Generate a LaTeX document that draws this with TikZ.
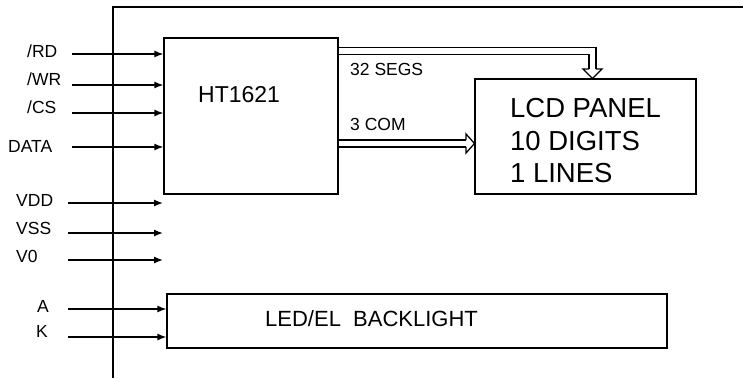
\documentclass[tikz,border=0pt]{standalone}
\usepackage{fontspec}
\setmainfont{Liberation Sans}
\usetikzlibrary{arrows.meta}
\tikzstyle{box} = [rectangle, draw=black, line width=1.3pt, inner sep=0pt]
\tikzstyle{pin} = [font=\fontsize{17.5}{21}\selectfont, inner sep=0pt, anchor=base west]
\tikzstyle{arrow} = [line width=1.3pt, -{Latex[length=9pt,width=7pt]}]
\tikzstyle{bus} = [double, double distance=5.6pt, line width=1.3pt]
\tikzstyle{head} = [line width=1.3pt]

\begin{document}
\begin{tikzpicture}[x=1pt, y=-1pt]
\useasboundingbox (0,0) rectangle (743,378);
% module outline
\draw [line width=1.3pt] (113,378) -- (113,7) -- (743,7);

% blocks
\node (ht) [box, minimum width=174pt, minimum height=156pt] at (251,116) {};
\node (htname) [pin, font=\fontsize{23}{26}\selectfont] at (198,102) {HT1621};
\node (lcd) [box, minimum width=221pt, minimum height=115pt, align=left, font=\fontsize{27.5}{32.5}\selectfont] at (585.5,136.5) {\rule{0pt}{28pt}LCD PANEL\\10 DIGITS\\1 LINES};
\node (bl) [box, minimum width=500pt, minimum height=54pt] at (417,321) {};
\node (blname) [pin, font=\fontsize{22}{26}\selectfont] at (265,326) {LED/EL\ \ BACKLIGHT};

% bus labels
\node (segslab) [pin] at (350,75) {32 SEGS};
\node (comlab) [pin] at (350,130) {3 COM};

% interface pins
\node (rdlab) [pin] at (27,57) {/RD};
\node (wrlab) [pin] at (27,85) {/WR};
\node (cslab) [pin] at (27,113) {/CS};
\node (datalab) [pin] at (8,152) {DATA};
\node (vddlab) [pin] at (16,206) {VDD};
\node (vsslab) [pin] at (16,234) {VSS};
\node (volab) [pin] at (16,262) {V0};
\node (alab) [pin] at (37,312) {A};
\node (klab) [pin] at (36,337) {K};

\coordinate (rdin) at (72,54);
\coordinate (wrin) at (72,85);
\coordinate (csin) at (72,113);
\coordinate (datain) at (72,147);
\coordinate (vddin) at (68,203);
\coordinate (vssin) at (68,233);
\coordinate (voin) at (68,260);
\coordinate (ain) at (68,309);
\coordinate (kin) at (68,337);
\coordinate (pwrend) at (163,0);

\draw [arrow] (rdin) -- (rdin -| ht.west);
\draw [arrow] (wrin) -- (wrin -| ht.west);
\draw [arrow] (csin) -- (csin -| ht.west);
\draw [arrow] (datain) -- (datain -| ht.west);
\draw [arrow] (vddin) -- (vddin -| pwrend);
\draw [arrow] (vssin) -- (vssin -| pwrend);
\draw [arrow] (voin) -- (voin -| pwrend);
\draw [arrow] (ain) -- (ain -| bl.west);
\draw [arrow] (kin) -- (kin -| bl.west);

% segment bus
\coordinate (segout) at (ht.east |- 0,51);
\coordinate (segend) at (592.5,69);
\draw [bus] (segout) -| (segend);
\fill [white] (583,69) -- (592.5,78.5) -- (602,69) -- cycle;
\draw [head] (589.2,69) -- (583,69) -- (592.5,78.5) -- (602,69) -- (595.8,69);

% common bus
\coordinate (comout) at (ht.east |- 0,143.5);
\coordinate (comend) at (466,143.5);
\draw [bus] (comout) -- (comend);
\fill [white] (466,134) -- (474.5,143.5) -- (466,153) -- cycle;
\draw [head] (466,140.2) -- (466,134) -- (474.5,143.5) -- (466,153) -- (466,146.8);
\end{tikzpicture}
\end{document}
